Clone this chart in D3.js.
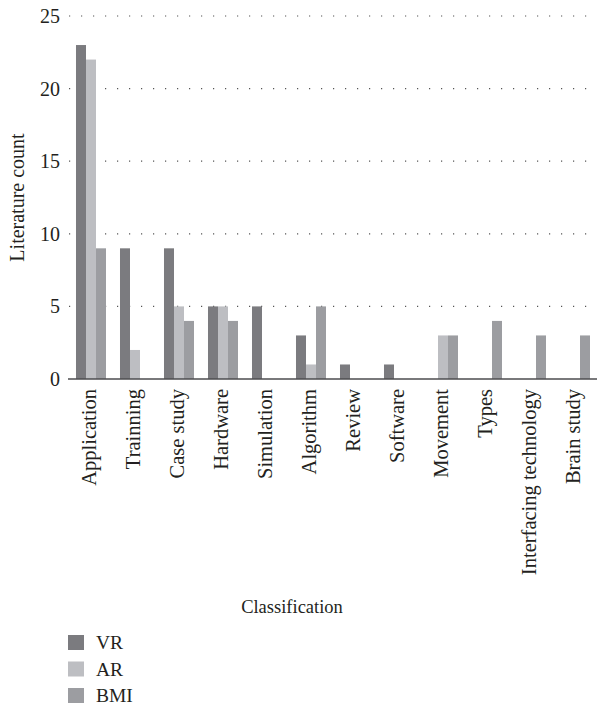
<!DOCTYPE html>
<html>
<head>
<meta charset="utf-8">
<script src="https://cdn.jsdelivr.net/npm/d3@7"></script>
<style>
  body { margin: 0; background: #fff; }
  text { font-family: "Liberation Serif", "DejaVu Serif", serif; fill: #231f20; }
</style>
</head>
<body>
<svg id="chart" width="597" height="707"></svg>
<script>
var categories = ["Application", "Trainning", "Case study", "Hardware", "Simulation", "Algorithm",
                  "Review", "Software", "Movement", "Types", "Interfacing technology", "Brain study"];
var seriesNames = ["VR", "AR", "BMI"];
var vrValues  = [23, 9, 9, 5, 5, 3, 1, 1, 0, 0, 0, 0];
var arValues  = [22, 2, 5, 5, 0, 1, 0, 0, 3, 0, 0, 0];
var bmiValues = [9, 0, 4, 4, 0, 5, 0, 0, 3, 4, 3, 3];
var yTicks = [0, 5, 10, 15, 20, 25];

var colors = ["#7b7b7f", "#bdbec2", "#9c9da1"];
var series = [vrValues, arValues, bmiValues];

var svg = d3.select("#chart");
// plot box (avoid "top", it clashes with window.top)
var pLeft = 69, pRight = 597, pTop = 16, pBottom = 379;

var x0 = d3.scaleBand().domain(categories).range([pLeft, pRight])
    .paddingInner(0.318).paddingOuter(0.159);
var x1 = d3.scaleBand().domain(seriesNames).range([0, x0.bandwidth()]);
var y = d3.scaleLinear().domain([0, 25]).range([pBottom, pTop]);

// dotted grid
svg.append("g").selectAll("line").data(yTicks.filter(function(d){return d > 0;}))
  .enter().append("line")
    .attr("x1", pLeft).attr("x2", pRight)
    .attr("y1", function(d){return y(d);}).attr("y2", function(d){return y(d);})
    .attr("stroke", "#555").attr("stroke-width", 1.2)
    .attr("stroke-dasharray", "1.2 10.8");

// bars
var groups = svg.append("g").selectAll("g").data(categories).enter().append("g")
    .attr("transform", function(d){return "translate(" + x0(d) + ",0)";});
groups.selectAll("rect")
  .data(function(d, i){ return seriesNames.map(function(s, j){ return {s: s, v: series[j][i], c: colors[j]}; }); })
  .enter().append("rect")
    .attr("x", function(d){return x1(d.s);})
    .attr("width", x1.bandwidth())
    .attr("y", function(d){return y(d.v);})
    .attr("height", function(d){return y(0) - y(d.v);})
    .attr("fill", function(d){return d.c;});

// y axis tick labels
var yAxis = d3.axisLeft(y).tickValues(yTicks).tickSize(0).tickPadding(0);
var gy = svg.append("g").attr("transform", "translate(60,0)").call(yAxis);
gy.select(".domain").remove();
gy.selectAll("text").style("font-size", "20px").attr("fill", "#231f20")
  .attr("font-family", "Liberation Serif");

// x axis baseline
svg.append("line").attr("x1", 68).attr("x2", pRight)
  .attr("y1", y(0)).attr("y2", y(0))
  .attr("stroke", "#4d4d4f").attr("stroke-width", 1.5);

// category labels
var xAxis = d3.axisBottom(x0).tickSize(0).tickPadding(0);
var gx = svg.append("g").attr("transform", "translate(0," + (pBottom + 10) + ")").call(xAxis);
gx.select(".domain").remove();
gx.selectAll("text")
  .style("font-size", "20.5px").attr("fill", "#231f20").attr("font-family", "Liberation Serif")
  .attr("transform", "rotate(-90)")
  .attr("text-anchor", "end")
  .attr("x", 0).attr("y", 0)
  .attr("dx", 0).attr("dy", "0.25em");

// axis titles
svg.append("text").attr("x", 292).attr("y", 613).attr("text-anchor", "middle")
  .style("font-size", "18.5px").text("Classification");
svg.append("text").attr("transform", "translate(24," + ((pTop + pBottom) / 2) + ") rotate(-90)")
  .attr("text-anchor", "middle").style("font-size", "20px").text("Literature count");

// legend
var legend = svg.append("g").selectAll("g").data(seriesNames).enter().append("g")
  .attr("transform", function(d, i){ return "translate(68," + (635 + i * 26.5) + ")"; });
legend.append("rect").attr("width", 16).attr("height", 15)
  .attr("fill", function(d, i){ return colors[i]; });
legend.append("text").attr("x", 28).attr("y", 14).style("font-size", "19.5px")
  .text(function(d){ return d; });
</script>
</body>
</html>
